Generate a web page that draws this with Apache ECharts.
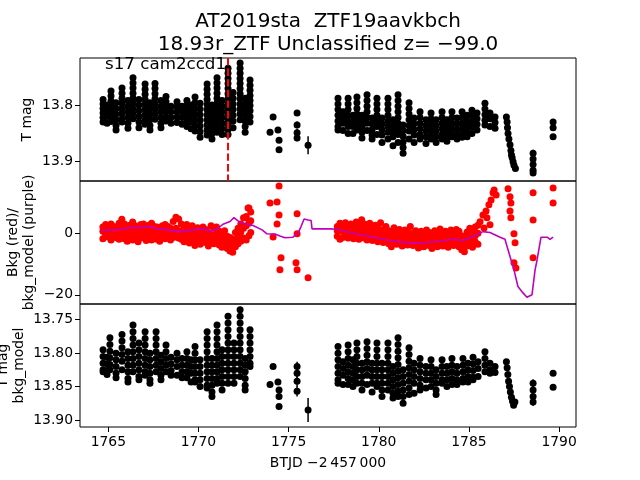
<!DOCTYPE html>
<html><head><meta charset="utf-8">
<script src="https://cdn.jsdelivr.net/npm/echarts@6.0.0/dist/echarts.min.js"></script>
<style>html,body{margin:0;padding:0;background:#fff}#c{width:640px;height:480px}</style>
</head><body><div id="c"></div>
<script>
const xTicks = [1765, 1770, 1775, 1780, 1785, 1790];
const yTicksTop = [13.8, 13.9];
const yTicksMid = [-20, 0];
const yTicksBot = [13.75, 13.80, 13.85, 13.90];
const eventTime = 1771.62;

// T mag: columns of points [time, [mag, ...]]
const tmagCols = [
 [1764.71,[13.790,13.798,13.806,13.814,13.822,13.830]],
 [1764.93,[13.800,13.810,13.820,13.832]],
 [1765.15,[13.775,13.784,13.793,13.802,13.811,13.820,13.829]],
 [1765.43,[13.796,13.806,13.816,13.826,13.836,13.844]],
 [1765.76,[13.770,13.779,13.788,13.797,13.806,13.815,13.824,13.830]],
 [1766.09,[13.792,13.802,13.812,13.822,13.832,13.841]],
 [1766.37,[13.752,13.761,13.770,13.779,13.788,13.797,13.806,13.815,13.824]],
 [1766.70,[13.790,13.800,13.810,13.820,13.830,13.840]],
 [1767.04,[13.763,13.772,13.781,13.790,13.799,13.808,13.817,13.826,13.834]],
 [1767.31,[13.796,13.806,13.816,13.826,13.836,13.844]],
 [1767.59,[13.762,13.771,13.780,13.789,13.798,13.807,13.816,13.825]],
 [1767.92,[13.792,13.802,13.812,13.822,13.832,13.840]],
 [1768.20,[13.785,13.794,13.803,13.812,13.821,13.828]],
 [1768.48,[13.802,13.812,13.822,13.832]],
 [1768.81,[13.794,13.803,13.812,13.821,13.831]],
 [1769.09,[13.802,13.812,13.822,13.834]],
 [1769.36,[13.792,13.801,13.810,13.819,13.828,13.838]],
 [1769.59,[13.800,13.810,13.820,13.830,13.842]],
 [1769.81,[13.786,13.796,13.806,13.816,13.826,13.836,13.846]],
 [1770.09,[13.797,13.807,13.817,13.827,13.837,13.847,13.857]],
 [1770.48,[13.763,13.772,13.781,13.790,13.799,13.808,13.817,13.826,13.835,13.844,13.853]],
 [1770.75,[13.800,13.810,13.820,13.830,13.840,13.850,13.860]],
 [1771.03,[13.752,13.761,13.770,13.779,13.788,13.797,13.806,13.815,13.824,13.833,13.842,13.848]],
 [1771.31,[13.792,13.802,13.812,13.822,13.832,13.842,13.852]],
 [1771.64,[13.735,13.744,13.753,13.762,13.771,13.780,13.789,13.798,13.807,13.816,13.825,13.834,13.843,13.852]],
 [1771.92,[13.778,13.788,13.798,13.808,13.818,13.828,13.840]],
 [1772.31,[13.726,13.735,13.744,13.753,13.762,13.771,13.780,13.789,13.798,13.807,13.816,13.826]],
 [1772.59,[13.788,13.798,13.808,13.818,13.828,13.838,13.848]],
 [1772.86,[13.756,13.765,13.774,13.783,13.792,13.801,13.810,13.820,13.830]],
 [1773.97,[13.848]],
 [1774.14,[13.821]],
 [1774.41,[13.844]],
 [1777.74,[13.788,13.798,13.808,13.818,13.828,13.838,13.844]],
 [1778.02,[13.812,13.822,13.832,13.845]],
 [1778.30,[13.788,13.798,13.808,13.818,13.828,13.838,13.850]],
 [1778.57,[13.818,13.828,13.838,13.850]],
 [1778.79,[13.786,13.796,13.806,13.816,13.826,13.836,13.844]],
 [1779.07,[13.818,13.828,13.838,13.848,13.858]],
 [1779.35,[13.782,13.792,13.802,13.812,13.822,13.832,13.845]],
 [1779.63,[13.823,13.833,13.843,13.853,13.860]],
 [1779.90,[13.788,13.798,13.808,13.818,13.828,13.838,13.852]],
 [1780.18,[13.823,13.833,13.843,13.853,13.866]],
 [1780.51,[13.788,13.798,13.808,13.818,13.828,13.838,13.848,13.860]],
 [1780.79,[13.826,13.836,13.846,13.856,13.872]],
 [1781.07,[13.782,13.792,13.802,13.812,13.822,13.832,13.842,13.852,13.866]],
 [1781.35,[13.835,13.845,13.855,13.865,13.875,13.885]],
 [1781.68,[13.796,13.806,13.816,13.826,13.836,13.846,13.860]],
 [1781.96,[13.823,13.833,13.843,13.853,13.866]],
 [1782.29,[13.812,13.822,13.832,13.842,13.852,13.860]],
 [1782.62,[13.826,13.836,13.846,13.856,13.868]],
 [1782.90,[13.814,13.824,13.834,13.844,13.854,13.860]],
 [1783.18,[13.826,13.836,13.846,13.856,13.866]],
 [1783.51,[13.812,13.822,13.832,13.842,13.852,13.860]],
 [1783.78,[13.826,13.836,13.846,13.856,13.864]],
 [1784.06,[13.812,13.822,13.832,13.842,13.852,13.856]],
 [1784.34,[13.823,13.833,13.843,13.853,13.860]],
 [1784.62,[13.812,13.822,13.832,13.842,13.852,13.857]],
 [1784.90,[13.818,13.828,13.838,13.848,13.856]],
 [1785.17,[13.809,13.819,13.829,13.839,13.850]],
 [1785.45,[13.814,13.824,13.834,13.844]],
 [1785.89,[13.797,13.807,13.817,13.827,13.835]],
 [1786.17,[13.814,13.824,13.838]],
 [1786.45,[13.821,13.831,13.841]],
 [1787.08,[13.821]], [1787.12,[13.830]], [1787.14,[13.840]], [1787.17,[13.850]],
 [1787.22,[13.860]], [1787.28,[13.870]], [1787.33,[13.880]], [1787.36,[13.888]],
 [1787.40,[13.893]], [1787.45,[13.900]], [1787.50,[13.906]], [1787.58,[13.912]]
];
// T mag points with visible error bars: [time, mag, err]
const tmagErr = [
 [1774.47,13.862,0.004],[1774.47,13.879,0.004],
 [1775.47,13.814,0.005],[1775.47,13.835,0.006],[1775.47,13.849,0.007],[1775.47,13.858,0.006],
 [1776.08,13.871,0.016],
 [1788.56,13.885,0.006],[1788.56,13.895,0.006],[1788.56,13.905,0.007],[1788.56,13.915,0.006],[1788.56,13.920,0.005],
 [1789.67,13.830,0.004],[1789.67,13.840,0.004],[1789.67,13.856,0.004]
];

// Background flux rows [time, v1, v2, v3]
const bkgRows = [
 [1764.70,-1.8,0.6,2.0],[1764.85,-0.5,1.2,2.8],[1765.00,-1.2,0.2,2.5],[1765.15,-2.2,1.0,3.0],
 [1765.30,-0.8,0.8,2.2],[1765.45,-1.5,-0.2,1.8],[1765.60,-2.0,0.5,3.2],[1765.75,-0.6,1.5,4.5],
 [1765.90,-1.8,0.4,3.0],[1766.05,-2.6,-0.4,1.6],[1766.20,-1.0,1.2,2.6],[1766.35,-2.2,0.0,3.6],
 [1766.50,-1.4,0.8,2.4],[1766.65,-2.8,-0.6,1.4],[1766.80,-1.6,0.6,2.8],[1766.95,-0.8,1.4,3.0],
 [1767.10,-2.4,0.2,1.8],[1767.25,-1.6,0.8,2.6],[1767.40,-2.2,-0.2,3.2],[1767.55,-1.2,0.6,2.2],
 [1767.70,-2.0,0.0,2.0],[1767.85,-2.6,-0.4,1.6],[1768.00,-1.2,0.8,2.4],[1768.15,-1.8,0.2,2.8],
 [1768.30,-0.8,1.0,2.2],[1768.45,-2.2,-0.2,1.6],[1768.60,-1.4,0.4,3.8],[1768.75,-0.6,1.6,5.2],
 [1768.90,-1.6,0.8,4.6],[1769.05,-2.0,0.2,3.0],[1769.20,-2.8,-0.8,2.2],[1769.35,-1.8,0.4,2.8],
 [1769.50,-3.2,-1.0,1.6],[1769.65,-2.4,0.2,2.4],[1769.80,-4.0,-1.6,0.8],[1769.95,-2.8,-0.6,1.8],
 [1770.10,-3.6,-1.4,0.8],[1770.25,-2.4,0.0,2.0],[1770.40,-3.0,-1.0,1.2],[1770.55,-4.2,-2.0,0.2],
 [1770.70,-2.6,-0.4,2.4],[1770.85,-3.4,-1.2,1.6],[1771.00,-2.2,0.0,2.0],[1771.15,-3.8,-1.8,0.6],
 [1771.30,-4.6,-2.6,-0.4],[1771.45,-3.2,-1.4,0.8],[1771.60,-5.0,-3.0,-1.0],[1771.75,-5.8,-3.6,-1.4],
 [1771.90,-6.2,-4.0,-2.0],[1772.05,-4.4,-2.2,0.2],[1772.20,-3.4,-1.0,1.6],[1772.35,-2.6,0.4,3.0],
 [1772.50,-1.6,1.6,5.0],[1772.65,-2.2,2.4,5.4],[1772.80,-0.8,3.2,8.2],[1772.90,0.2,4.0,6.9],
 [1777.70,-1.0,0.8,2.2],[1777.85,-2.0,1.4,3.2],[1778.00,-1.4,0.6,2.6],[1778.15,-0.8,1.8,3.4],
 [1778.30,-1.6,0.4,2.4],[1778.45,-0.6,1.6,3.0],[1778.60,-1.8,0.2,2.2],[1778.75,-1.0,1.2,3.6],
 [1778.90,-2.0,0.6,2.8],[1779.05,-0.4,1.8,4.4],[1779.20,-1.6,0.8,3.0],[1779.35,-2.2,0.2,2.4],
 [1779.50,-1.2,1.2,3.2],[1779.65,-2.4,-0.2,2.0],[1779.80,-1.6,0.6,2.6],[1779.95,-2.8,-0.6,1.6],
 [1780.10,-2.0,0.2,3.4],[1780.25,-3.0,-0.8,1.2],[1780.40,-2.2,0.0,2.2],[1780.55,-3.4,-1.2,0.8],
 [1780.70,-4.4,-1.8,0.4],[1780.85,-2.6,-0.6,1.8],[1781.00,-3.6,-1.4,0.6],[1781.15,-2.8,-1.0,1.2],
 [1781.30,-4.2,-2.2,0.2],[1781.45,-3.2,-1.2,1.0],[1781.60,-3.8,-1.8,0.4],[1781.75,-3.0,-1.2,2.2],
 [1781.90,-4.0,-2.0,0.0],[1782.05,-3.4,-1.4,0.8],[1782.20,-4.8,-2.6,-0.4],[1782.35,-3.6,-1.6,0.6],
 [1782.50,-4.4,-2.4,-0.2],[1782.65,-3.2,-1.2,1.0],[1782.80,-4.0,-2.2,0.2],[1782.95,-5.0,-2.8,-0.6],
 [1783.10,-3.6,-1.6,0.8],[1783.25,-4.4,-2.2,0.4],[1783.40,-3.0,-1.4,1.4],[1783.55,-4.2,-2.0,0.0],
 [1783.70,-3.4,-1.2,0.6],[1783.85,-4.6,-2.4,-0.4],[1784.00,-3.2,-1.4,1.0],[1784.15,-4.0,-2.0,0.2],
 [1784.30,-3.0,-1.0,1.2],[1784.45,-4.4,-2.2,0.6],[1784.60,-5.4,-3.0,-0.8],[1784.75,-6.0,-3.6,-1.0],
 [1784.90,-4.2,-2.0,0.4],[1785.05,-3.4,-1.2,1.6],[1785.20,-4.6,-2.2,0.8],[1785.35,-2.8,-0.8,2.0],
 [1785.50,-3.6,0.0,2.6]
];
// Background single points [time, value]
const bkgPts = [
 [1772.59,5.0],[1772.75,8.2],
 [1773.97,9.8],[1774.14,-1.2],[1774.36,10.1],[1774.36,3.0],[1774.47,15.3],[1774.47,5.9],
 [1774.52,-11.9],[1774.58,-8.0],[1775.41,-9.6],[1775.47,6.3],[1775.47,-0.2],[1775.47,-11.9],
 [1776.08,-14.5],
 [1785.62,3.7],[1785.78,5.9],[1785.84,1.7],[1785.95,7.2],[1786.00,5.0],[1786.11,9.2],
 [1786.17,2.7],[1786.23,10.8],[1786.34,13.1],[1786.40,14.0],[1786.51,12.4],
 [1787.17,14.4],[1787.28,11.8],[1787.33,9.8],[1787.28,7.2],[1787.33,5.0],[1787.50,-0.2],
 [1787.56,-3.1],[1787.50,-9.6],[1787.61,-11.3],
 [1788.56,13.1],[1788.56,4.3],[1788.56,-8.0],[1789.67,14.7],[1789.67,9.8]
];
// Background model [time, value]
const bkgModel = [
 [1764.63,0.85],[1765.26,1.07],[1765.82,1.3],[1766.09,1.8],[1766.65,1.8],[1767.31,2.15],
 [1767.70,1.4],[1768.26,1.07],[1768.98,0.52],[1769.70,1.07],[1770.25,1.4],[1770.64,0.75],
 [1771.03,1.3],[1771.36,2.9],[1771.75,3.8],[1771.97,5.06],[1772.31,3.4],[1772.70,2.9],
 [1773.03,2.5],[1773.53,1.07],[1773.80,-0.2],[1774.25,-0.3],[1774.52,-0.9],[1774.80,-1.5],
 [1775.24,-1.3],[1775.52,0.0],[1775.69,2.15],[1775.86,4.6],[1776.08,4.3],[1776.25,4.1],
 [1776.30,1.4],[1777.30,1.4],[1777.68,1.3],[1778.02,0.85],[1778.57,0.0],[1779.52,-1.1],
 [1780.46,-2.2],[1781.35,-3.0],[1782.29,-3.25],[1783.23,-2.7],[1784.12,-1.95],[1784.67,-2.4],
 [1785.23,-1.1],[1785.78,0.5],[1786.17,0.2],[1786.73,-1.3],[1787.00,-2.0],[1787.28,-7.6],
 [1787.50,-11.9],[1787.72,-17.3],[1788.00,-19.4],[1788.22,-20.8],[1788.50,-20.0],
 [1788.67,-11.9],[1788.78,-8.7],[1789.00,-1.3],[1789.34,-1.3],[1789.50,-2.0],[1789.67,-1.3]
];

// T mag - bkg_model: columns [time, [value, ...]]
const detCols = [
 [1764.71,[13.795,13.805,13.815,13.825,13.828]],
 [1764.93,[13.806,13.816,13.826,13.832]],
 [1765.09,[13.777,13.787,13.797,13.807,13.817,13.825]],
 [1765.43,[13.800,13.810,13.820,13.830,13.837]],
 [1765.76,[13.772,13.782,13.792,13.802,13.812,13.825]],
 [1766.09,[13.798,13.808,13.818,13.828,13.838,13.843]],
 [1766.37,[13.758,13.768,13.778,13.788,13.798,13.808,13.818,13.828]],
 [1766.70,[13.785,13.795,13.805,13.815,13.825,13.835,13.840]],
 [1767.04,[13.768,13.778,13.788,13.798,13.808,13.818,13.828,13.833]],
 [1767.31,[13.800,13.810,13.820,13.830,13.840,13.845]],
 [1767.65,[13.768,13.778,13.788,13.798,13.808,13.818,13.828]],
 [1767.92,[13.803,13.813,13.823,13.833,13.840]],
 [1768.20,[13.788,13.798,13.808,13.818,13.828]],
 [1768.48,[13.806,13.816,13.826,13.833]],
 [1768.81,[13.800,13.810,13.820,13.833]],
 [1769.09,[13.808,13.818,13.828,13.837]],
 [1769.36,[13.798,13.808,13.818,13.828,13.837]],
 [1769.59,[13.810,13.820,13.830,13.843]],
 [1769.81,[13.790,13.800,13.810,13.820,13.830,13.840,13.843]],
 [1770.09,[13.810,13.820,13.830,13.840,13.850]],
 [1770.48,[13.768,13.778,13.788,13.798,13.808,13.818,13.828,13.838,13.848,13.852]],
 [1770.75,[13.808,13.818,13.828,13.838,13.848,13.858,13.865]],
 [1771.03,[13.758,13.768,13.778,13.788,13.798,13.808,13.818,13.828,13.838,13.845]],
 [1771.31,[13.795,13.805,13.815,13.825,13.835,13.845,13.855]],
 [1771.64,[13.745,13.755,13.765,13.775,13.785,13.795,13.805,13.815,13.825,13.835,13.845]],
 [1771.97,[13.785,13.795,13.805,13.815,13.825,13.835,13.845]],
 [1772.31,[13.735,13.745,13.755,13.765,13.775,13.785,13.795,13.805,13.815,13.825,13.835]],
 [1772.59,[13.808,13.818,13.828,13.838,13.848,13.855]],
 [1772.86,[13.765,13.775,13.785,13.795,13.805,13.815,13.820]],
 [1773.97,[13.847]],
 [1774.14,[13.820]],
 [1774.41,[13.843]],
 [1777.74,[13.790,13.800,13.810,13.820,13.830,13.840,13.845]],
 [1778.02,[13.813,13.823,13.833,13.847]],
 [1778.30,[13.788,13.798,13.808,13.818,13.828,13.838,13.847]],
 [1778.57,[13.810,13.820,13.830,13.840,13.850]],
 [1778.79,[13.785,13.795,13.805,13.815,13.825,13.835,13.845]],
 [1779.07,[13.815,13.825,13.835,13.845,13.855]],
 [1779.35,[13.783,13.793,13.803,13.813,13.823,13.833,13.847]],
 [1779.63,[13.815,13.825,13.835,13.845,13.858]],
 [1779.90,[13.785,13.795,13.805,13.815,13.825,13.835,13.845,13.850]],
 [1780.18,[13.815,13.825,13.835,13.845,13.855,13.865]],
 [1780.51,[13.785,13.795,13.805,13.815,13.825,13.835,13.845,13.855]],
 [1780.79,[13.820,13.830,13.840,13.850,13.860,13.867]],
 [1781.07,[13.777,13.787,13.797,13.807,13.817,13.827,13.837,13.847,13.857,13.865]],
 [1781.35,[13.825,13.835,13.845,13.855,13.865,13.875]],
 [1781.68,[13.792,13.802,13.812,13.822,13.832,13.842,13.852,13.862]],
 [1781.96,[13.815,13.825,13.835,13.845,13.860]],
 [1782.29,[13.808,13.818,13.828,13.838,13.848,13.855]],
 [1782.62,[13.820,13.830,13.840,13.852]],
 [1782.90,[13.810,13.820,13.830,13.840,13.850]],
 [1783.18,[13.825,13.835,13.845,13.855,13.862]],
 [1783.51,[13.810,13.820,13.830,13.840,13.845]],
 [1783.78,[13.820,13.830,13.840,13.850]],
 [1784.06,[13.808,13.818,13.828,13.838,13.847]],
 [1784.34,[13.820,13.830,13.840,13.847]],
 [1784.67,[13.808,13.818,13.828,13.838,13.843]],
 [1784.95,[13.815,13.825,13.835,13.843]],
 [1785.23,[13.806,13.816,13.826,13.836,13.840]],
 [1785.51,[13.813,13.823,13.835]],
 [1785.89,[13.798,13.808,13.818,13.828]],
 [1786.17,[13.815,13.825,13.830]],
 [1786.45,[13.820,13.829]],
 [1787.08,[13.813]], [1787.12,[13.822]], [1787.16,[13.832]], [1787.20,[13.842]],
 [1787.25,[13.850]], [1787.30,[13.858]], [1787.36,[13.866]], [1787.42,[13.872]],
 [1787.48,[13.878]], [1787.55,[13.873]]
];
const detErr = [
 [1774.47,13.855,0.004],[1774.47,13.865,0.004],[1774.47,13.880,0.004],
 [1775.47,13.820,0.007],[1775.47,13.830,0.007],[1775.47,13.842,0.008],[1775.47,13.857,0.008],
 [1776.08,13.885,0.018],
 [1788.56,13.845,0.006],[1788.56,13.855,0.006],[1788.56,13.865,0.006],[1788.56,13.873,0.006],
 [1789.67,13.830,0.004],[1789.67,13.851,0.004]
];

// ---- build point lists from the named arrays ----
function flatCols(cols){ const out=[]; cols.forEach(c=>c[1].forEach(v=>out.push([c[0],v]))); return out; }
function flatRows(rows){ const out=[]; rows.forEach(r=>{ for(let i=1;i<r.length;i++) out.push([r[0],r[i]]); }); return out; }

const FONT = 'DejaVu Sans';
const X_MIN = 1763.43, X_MAX = 1790.94;
const gridL = 80, gridW = 496, gridH = 123;

function xAx(idx, showLabels){
  return {
    type:'value', gridIndex: idx, min: X_MIN, max: X_MAX,
    splitLine:{show:false}, axisLine:{show:false},
    axisTick:{show:showLabels, length:5, inside:false, customValues:xTicks, lineStyle:{color:'#000', width:1}},
    axisLabel:{show:showLabels, customValues:xTicks, formatter:v => String(v), color:'#000', fontSize:13.9, fontFamily:FONT, margin:8}
  };
}
function yAx(idx, min, max, inverse, ticks, fmt){
  return {
    type:'value', gridIndex: idx, min:min, max:max, inverse:inverse,
    splitLine:{show:false}, axisLine:{show:false},
    axisTick:{show:true, length:5, inside:false, customValues:ticks, lineStyle:{color:'#000', width:1}},
    axisLabel:{customValues:ticks, formatter:fmt, color:'#000', fontSize:13.9, fontFamily:FONT, margin:7}
  };
}
function errSeries(xi, yi, data){
  return {
    type:'custom', xAxisIndex:xi, yAxisIndex:yi, data:data, silent:true, z:3,
    renderItem:function(params, api){
      const x=api.value(0), y=api.value(1), e=api.value(2);
      const p1=api.coord([x,y-e]), p2=api.coord([x,y+e]);
      return {type:'line', shape:{x1:p1[0],y1:p1[1],x2:p2[0],y2:p2[1]}, style:{stroke:'#000', lineWidth:1.5}};
    }
  };
}
function dots(xi, yi, data, color, size, z){
  return {type:'scatter', xAxisIndex:xi, yAxisIndex:yi, data:data, symbol:'circle', symbolSize:size,
    itemStyle:{color:color, opacity:1}, silent:true, z:z||2, large:false};
}

const chart = echarts.init(document.getElementById('c'), null, {renderer:'canvas'});
const minusFmt = v => (v < 0 ? '\u2212' + Math.abs(v) : String(v));

chart.setOption({
  animation:false,
  backgroundColor:'#fff',
  grid:[
    {left:gridL, top:58, width:gridW, height:gridH, show:true, borderColor:'#000', borderWidth:1, backgroundColor:'transparent'},
    {left:gridL, top:181, width:gridW, height:gridH, show:true, borderColor:'#000', borderWidth:1, backgroundColor:'transparent'},
    {left:gridL, top:304, width:gridW, height:gridH, show:true, borderColor:'#000', borderWidth:1, backgroundColor:'transparent'}
  ],
  xAxis:[ xAx(0,false), xAx(1,false), xAx(2,true) ],
  yAxis:[
    yAx(0, 13.717, 13.934, true, yTicksTop, v => v.toFixed(1)),
    yAx(1, -23.0, 16.95, false, yTicksMid, minusFmt),
    yAx(2, 13.7265, 13.9105, true, yTicksBot, v => v.toFixed(2))
  ],
  series:[
    Object.assign(dots(0,0, flatCols(tmagCols).concat(tmagErr.map(r=>[r[0],r[1]])), '#000', 7, 2), {
      markLine:{silent:true, symbol:['none','none'], label:{show:false}, animation:false,
        lineStyle:{color:'#ff0000', width:2, type:[7.4,3.2]}, data:[{xAxis:eventTime}], z:5}
    }),
    errSeries(0,0, tmagErr),
    dots(1,1, flatRows(bkgRows).concat(bkgPts), '#ff0000', 7, 2),
    {type:'line', xAxisIndex:1, yAxisIndex:1, data:bkgModel, showSymbol:false, symbol:'none',
      lineStyle:{color:'#bf00bf', width:1.6}, silent:true, z:4},
    dots(2,2, flatCols(detCols).concat(detErr.map(r=>[r[0],r[1]])), '#000', 7, 2),
    errSeries(2,2, detErr)
  ],
  graphic:[
    {type:'text', x:328, y:10, style:{text:'AT2019sta  ZTF19aavkbch\n18.93r_ZTF Unclassified z= \u221299.0', font:'20px "DejaVu Sans"', fill:'#000', textAlign:'center', textVerticalAlign:'top', lineHeight:23}},
    {type:'text', x:105, y:56, style:{text:'s17 cam2ccd1', font:'16.7px "DejaVu Sans"', fill:'#000'}},
    {type:'text', x:27, y:119.5, rotation:Math.PI/2, style:{text:'T mag', font:'13.9px "DejaVu Sans"', fill:'#000', textAlign:'center', textVerticalAlign:'middle'}},
    {type:'text', x:13, y:242.5, rotation:Math.PI/2, style:{text:'Bkg (red)/', font:'13.9px "DejaVu Sans"', fill:'#000', textAlign:'center', textVerticalAlign:'middle'}},
    {type:'text', x:29, y:242.5, rotation:Math.PI/2, style:{text:'bkg_model (purple)', font:'13.9px "DejaVu Sans"', fill:'#000', textAlign:'center', textVerticalAlign:'middle'}},
    {type:'text', x:3, y:365.5, rotation:Math.PI/2, style:{text:'T mag', font:'13.9px "DejaVu Sans"', fill:'#000', textAlign:'center', textVerticalAlign:'middle'}},
    {type:'text', x:19, y:365.5, rotation:Math.PI/2, style:{text:'bkg_model', font:'13.9px "DejaVu Sans"', fill:'#000', textAlign:'center', textVerticalAlign:'middle'}},
    {type:'text', x:328, y:463, style:{text:'BTJD \u22122\u2009457\u2009000', font:'13.9px "DejaVu Sans"', fill:'#000', textAlign:'center', textVerticalAlign:'middle'}}
  ]
});
</script>
</body></html>
